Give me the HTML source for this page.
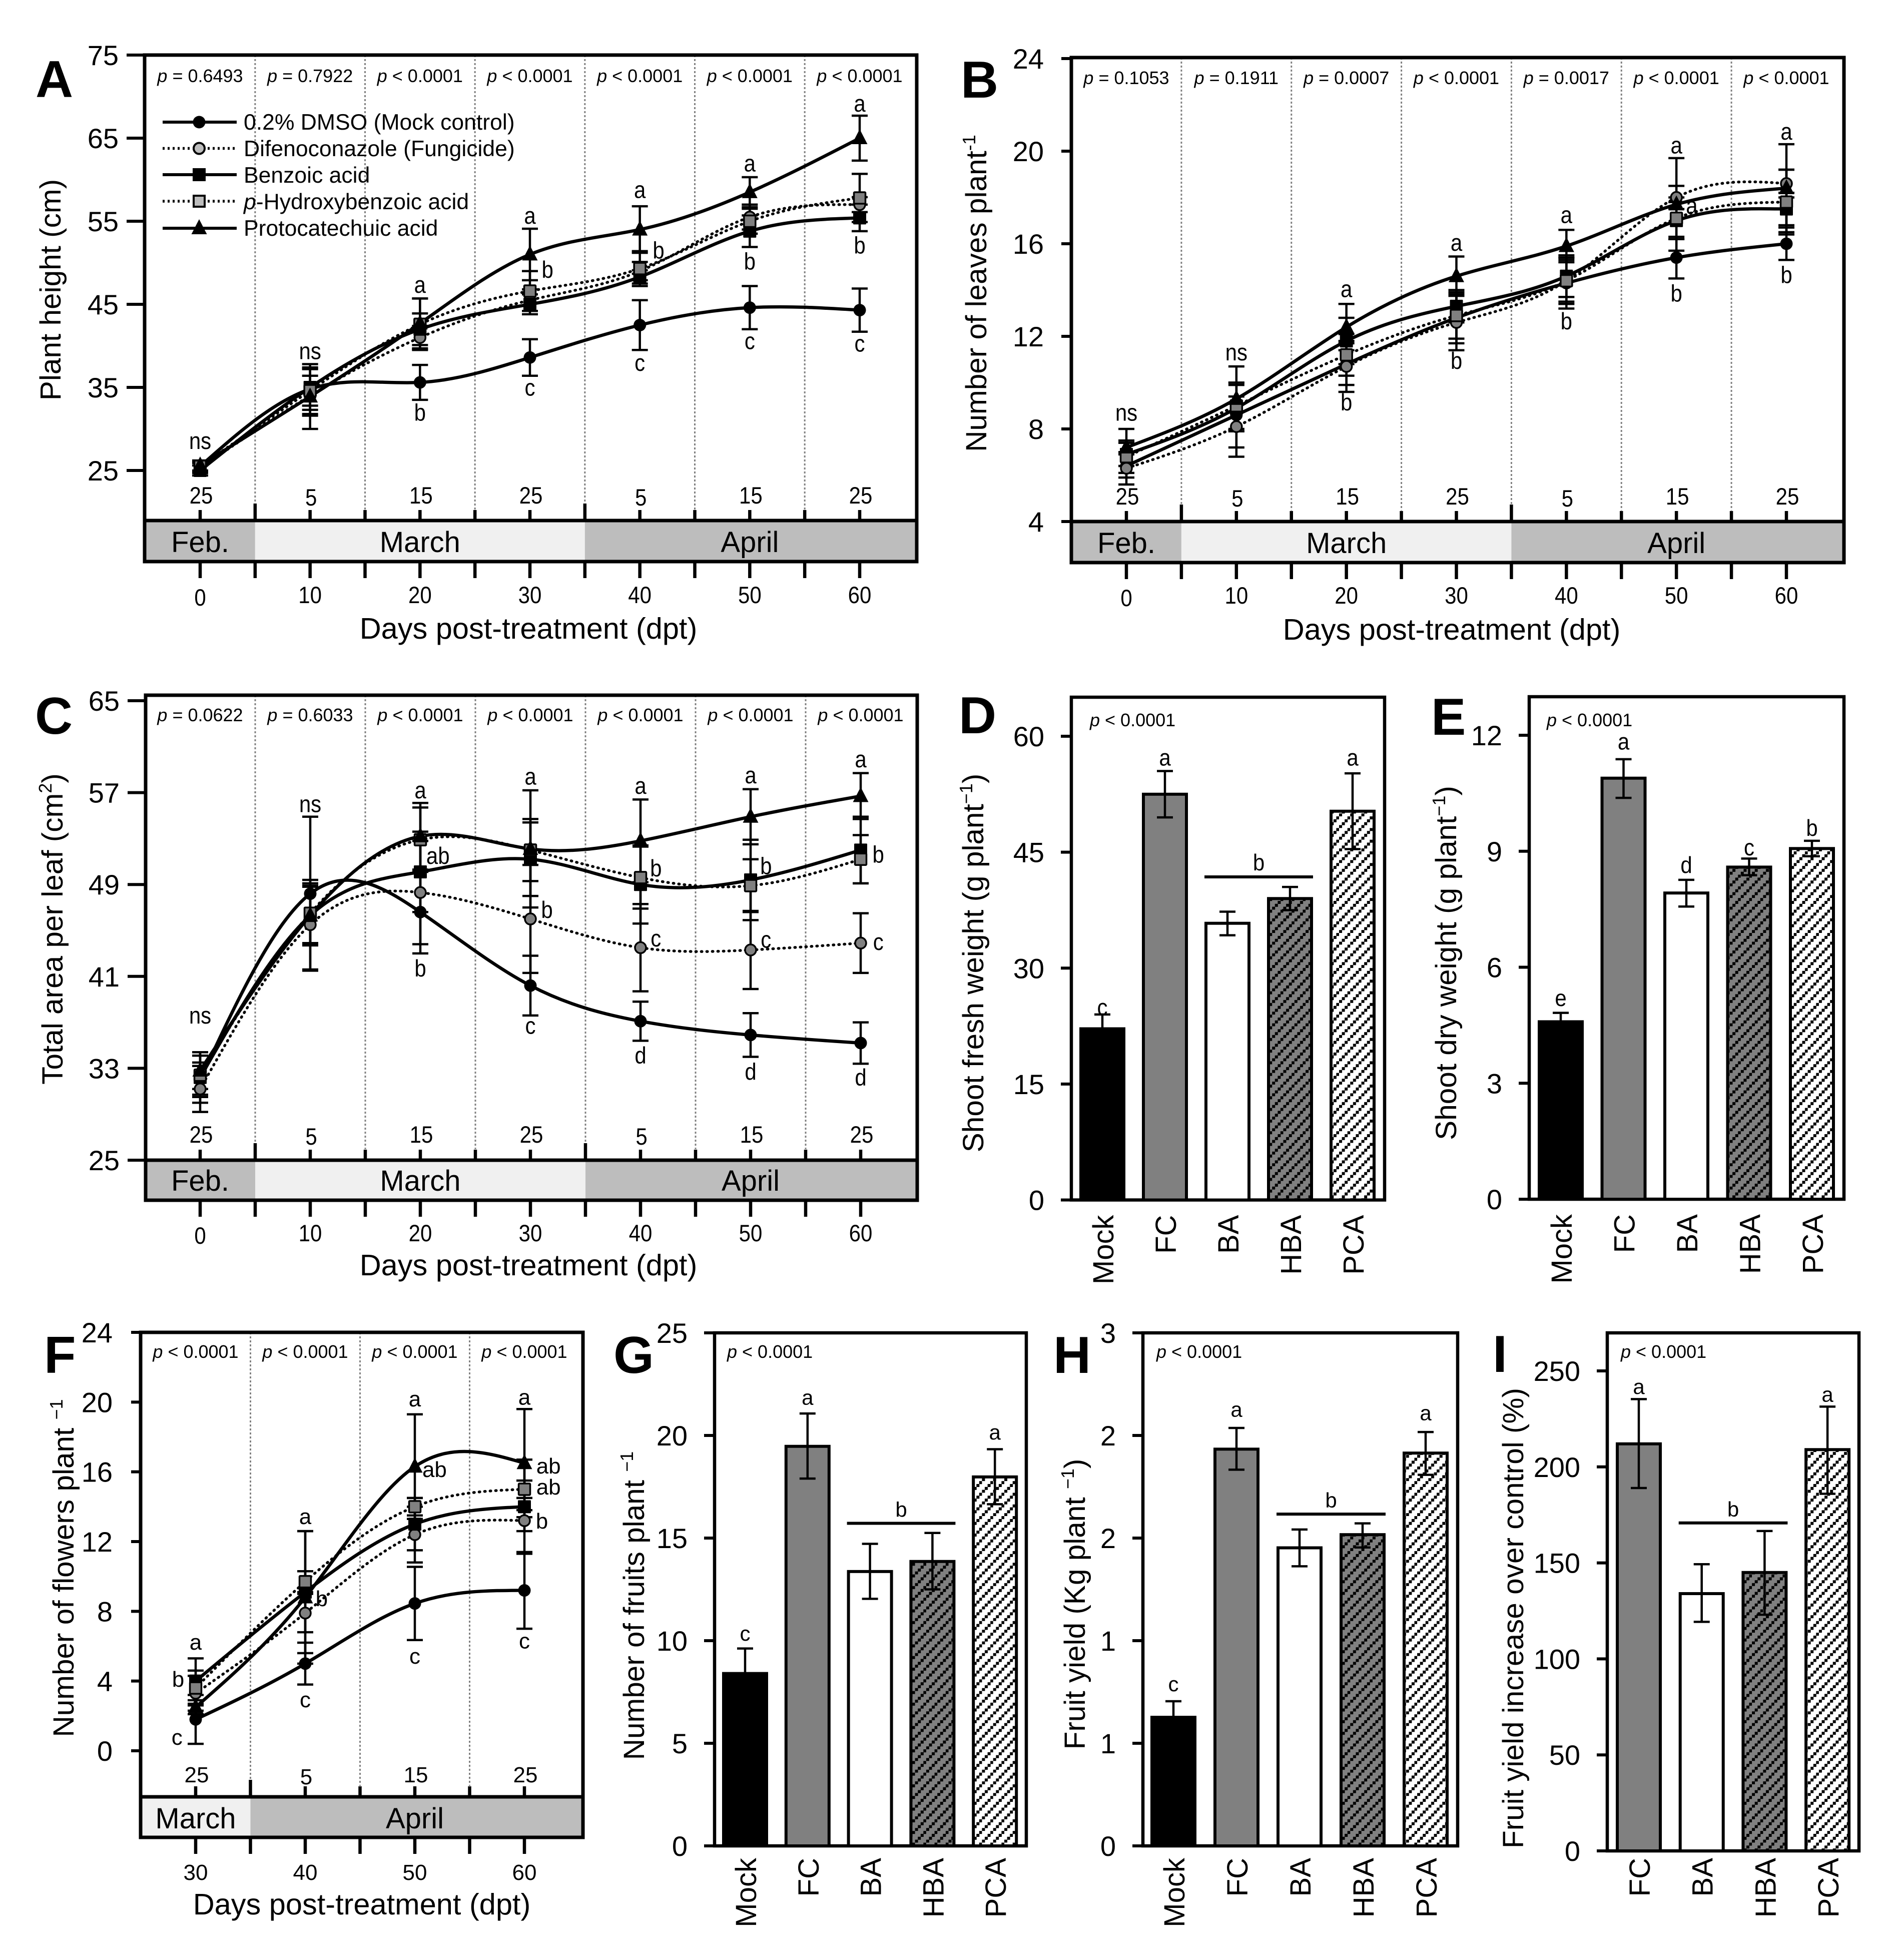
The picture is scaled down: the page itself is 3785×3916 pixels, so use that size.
<!DOCTYPE html>
<html lang="en">
<head>
<meta charset="utf-8">
<title>Plant growth and yield responses to phenolic acid treatments</title>
<style>
html,body{margin:0;padding:0;background:#fff;}
svg{display:block;font-family:"Liberation Sans",Arial,sans-serif;fill:#000;}
</style>
</head>
<body>
<svg id="figure" xmlns="http://www.w3.org/2000/svg" width="3785" height="3916" viewBox="0 0 3785 3916">
  <defs>
    <pattern id="hatch-dark" patternUnits="userSpaceOnUse" width="22.3" height="23.3">
      <rect width="22.3" height="23.3" fill="#808080"/>
      <rect x="0" y="17.5" width="6" height="6" fill="#000"/>
      <rect x="5.6" y="11.7" width="6" height="6" fill="#000"/>
      <rect x="11.2" y="5.9" width="6" height="6" fill="#000"/>
      <rect x="16.7" y="0.1" width="6" height="6" fill="#000"/>
    </pattern>
    <pattern id="hatch-light" patternUnits="userSpaceOnUse" width="22.3" height="23.3">
      <rect width="22.3" height="23.3" fill="#fff"/>
      <rect x="0" y="17.5" width="6" height="6" fill="#000"/>
      <rect x="5.6" y="11.7" width="6" height="6" fill="#000"/>
      <rect x="11.2" y="5.9" width="6" height="6" fill="#000"/>
      <rect x="16.7" y="0.1" width="6" height="6" fill="#000"/>
    </pattern>
  </defs>

  <g id="panel-a"></g>
  <g id="panel-b"></g>
  <g id="panel-c"></g>
  <g id="panel-d"></g>
  <g id="panel-e"></g>
  <g id="panel-f"></g>
  <g id="panel-g"></g>
  <g id="panel-h"></g>
  <g id="panel-i"></g>

  <g id="panel-letters" font-weight="bold" font-size="104">
    <text x="71" y="194">A</text>
    <text x="1920" y="195">B</text>
    <text x="70" y="1466">C</text>
    <text x="1916" y="1465">D</text>
    <text x="2860" y="1468">E</text>
    <text x="88" y="2743">F</text>
    <text x="1226" y="2743">G</text>
    <text x="2105" y="2743">H</text>
    <text x="2983" y="2741">I</text>
  </g>

  <g id="axis-titles" font-size="58.5" text-anchor="middle">
    <text transform="translate(121 579) rotate(-90)">Plant height (cm)</text>
    <text transform="translate(1971 586) rotate(-90)">Number of leaves plant<tspan font-size="36" dy="-22">-1</tspan></text>
    <text transform="translate(125 1856) rotate(-90)">Total area per leaf (cm<tspan font-size="36" dy="-22">2</tspan><tspan dy="22">)</tspan></text>
    <text transform="translate(1965 1924) rotate(-90)">Shoot fresh weight (g plant<tspan font-size="36" dy="-22">−1</tspan><tspan dy="22">)</tspan></text>
    <text transform="translate(2910 1924) rotate(-90)">Shoot dry weight (g plant<tspan font-size="36" dy="-22">−1</tspan><tspan dy="22">)</tspan></text>
    <text transform="translate(147 3133) rotate(-90)">Number of flowers plant <tspan font-size="36" dy="-22">−1</tspan></text>
    <text transform="translate(1287 3208) rotate(-90)">Number of fruits plant <tspan font-size="36" dy="-22">−1</tspan></text>
    <text transform="translate(2168 3205) rotate(-90)">Fruit yield (Kg plant <tspan font-size="36" dy="-22">−1</tspan><tspan dy="22">)</tspan></text>
    <text transform="translate(3044 3233) rotate(-90)">Fruit yield increase over control (%)</text>
    <text x="1056" y="1276" font-size="59.5">Days post-treatment (dpt)</text>
    <text x="2901" y="1278" font-size="59.5">Days post-treatment (dpt)</text>
    <text x="1056" y="2548" font-size="59.5">Days post-treatment (dpt)</text>
    <text x="723" y="3825" font-size="59.5">Days post-treatment (dpt)</text>
  </g>

  <g id="legend" font-size="44.5">
    <g>
      <line x1="325" y1="244" x2="473" y2="244" stroke="#000" stroke-width="6"/>
      <circle cx="398" cy="244" r="12.5" fill="#000"/>
      <text x="487" y="259">0.2% DMSO (Mock control)</text>
    </g>
    <g>
      <line x1="325" y1="296.5" x2="473" y2="296.5" stroke="#000" stroke-width="5.5" stroke-dasharray="4 6"/>
      <circle cx="398" cy="296.5" r="11" fill="#bdbdbd" stroke="#000" stroke-width="4"/>
      <text x="487" y="312">Difenoconazole (Fungicide)</text>
    </g>
    <g>
      <line x1="325" y1="349" x2="473" y2="349" stroke="#000" stroke-width="6"/>
      <rect x="385" y="336" width="26" height="26" fill="#000"/>
      <text x="487" y="365">Benzoic acid</text>
    </g>
    <g>
      <line x1="325" y1="402" x2="473" y2="402" stroke="#000" stroke-width="5.5" stroke-dasharray="4 6"/>
      <rect x="387" y="391" width="22" height="22" fill="#bdbdbd" stroke="#000" stroke-width="4"/>
      <text x="487" y="418"><tspan font-style="italic">p</tspan>-Hydroxybenzoic acid</text>
    </g>
    <g>
      <line x1="325" y1="456" x2="473" y2="456" stroke="#000" stroke-width="6"/>
      <polygon points="382.5,468 398,438 413.5,468" fill="#000"/>
      <text x="487" y="471">Protocatechuic acid</text>
    </g>
  </g>
</svg>

<script>
/* ---------- shared categories ---------- */
const daysFull = [0, 10, 20, 30, 40, 50, 60];
const daysFlower = [30, 40, 50, 60];
const dayOfMonthFull = ['25', '5', '15', '25', '5', '15', '25'];
const dayOfMonthFlower = ['25', '5', '15', '25'];
const barCategories = ['Mock', 'FC', 'BA', 'HBA', 'PCA'];
const barCategoriesNoMock = ['FC', 'BA', 'HBA', 'PCA'];

/* ---------- panel A: plant height ---------- */
const aTicks = [25, 35, 45, 55, 65, 75];
const aPValues = ['= 0.6493', '= 0.7922', '< 0.0001', '< 0.0001', '< 0.0001', '< 0.0001', '< 0.0001'];
const aMock = [25.5, 34.8, 35.6, 38.6, 42.5, 44.6, 44.3];
const aMockErr = [0.7, 2.5, 2.1, 2.2, 3.0, 2.6, 2.6];
const aFC = [25.3, 34.0, 41.0, 45.5, 49.0, 55.5, 57.0];
const aFCErr = [0.6, 2.4, 1.4, 1.3, 1.1, 1.5, 0.9];
const aBA = [25.0, 35.0, 42.0, 45.0, 48.3, 53.8, 55.4];
const aBAErr = [0.6, 2.2, 1.9, 1.2, 0.8, 1.9, 1.6];
const aHBA = [25.5, 34.6, 42.6, 46.6, 49.3, 55.0, 57.8];
const aHBAErr = [0.6, 2.8, 3.1, 2.4, 2.1, 1.5, 2.9];
const aPCA = [25.6, 33.9, 42.7, 51.0, 54.0, 58.5, 65.0];
const aPCAErr = [0.6, 3.9, 3.0, 3.1, 2.8, 1.8, 2.7];
const aNotes = [[0,27.6,'ns'],[10,38.4,'ns'],[20,46.4,'a'],[20,31,'b'],[30,54.7,'a'],[31.6,48.2,'b'],[30,34,'c'],[40,57.8,'a'],[41.7,50.5,'b'],[40,37,'c'],[50,61,'a'],[50,49.2,'b'],[50,39.6,'c'],[60,68.2,'a'],[60,51.1,'b'],[60,39.3,'c']];

/* ---------- panel B: number of leaves ---------- */
const bTicks = [4, 8, 12, 16, 20, 24];
const bPValues = ['= 0.1053', '= 0.1911', '= 0.0007', '< 0.0001', '= 0.0017', '< 0.0001', '< 0.0001'];
const bMock = [6.4, 8.6, 10.8, 12.8, 14.3, 15.4, 16.0];
const bMockErr = [0.5, 1.4, 0.9, 1.1, 1.1, 0.9, 0.7];
const bFC = [6.3, 8.1, 10.7, 12.6, 14.4, 18.0, 18.6];
const bFCErr = [0.7, 1.3, 1.1, 1.2, 0.9, 0.5, 0.6];
const bBA = [6.9, 8.9, 11.8, 13.3, 14.6, 17.0, 17.5];
const bBAErr = [0.5, 1.0, 1.0, 0.7, 0.9, 0.8, 0.7];
const bHBA = [6.8, 9.0, 11.2, 12.9, 14.4, 17.1, 17.8];
const bHBAErr = [0.7, 1.0, 0.9, 1.0, 1.0, 0.9, 1.4];
const bPCA = [7.2, 9.3, 12.4, 14.6, 15.9, 17.7, 18.4];
const bPCAErr = [0.8, 1.4, 1.0, 0.85, 0.7, 2.0, 1.9];
const bNotes = [[0,8.36,'ns'],[10,10.96,'ns'],[20,13.7,'a'],[20,8.8,'b'],[30,15.7,'a'],[30,10.6,'b'],[40,16.9,'a'],[40,12.3,'b'],[50,19.9,'a'],[51.4,17.3,'a'],[50,13.5,'b'],[60,20.5,'a'],[60,14.3,'b']];

/* ---------- panel C: leaf area ---------- */
const cTicks = [25, 33, 41, 49, 57, 65];
const cPValues = ['= 0.0622', '= 0.6033', '< 0.0001', '< 0.0001', '< 0.0001', '< 0.0001', '< 0.0001'];
const cMock = [32.0, 48.2, 46.6, 40.2, 37.1, 35.9, 35.2];
const cMockErr = [1.5, 6.7, 3.6, 2.6, 1.7, 1.9, 1.8];
const cFC = [31.2, 45.5, 48.3, 46.0, 43.5, 43.3, 43.9];
const cFCErr = [2.0, 3.9, 4.5, 4.7, 3.8, 3.4, 2.6];
const cBA = [32.2, 46.3, 50.1, 51.2, 49.0, 49.4, 52.0];
const cBAErr = [2.2, 2.5, 3.5, 3.2, 3.4, 3.5, 2.9];
const cHBA = [32.4, 46.5, 52.9, 52.0, 49.6, 48.9, 51.2];
const cHBAErr = [1.7, 2.6, 2.8, 2.7, 2.7, 2.3, 2.1];
const cPCA = [32.8, 46.3, 53.2, 52.1, 52.8, 54.9, 56.7];
const cPCAErr = [1.6, 2.6, 2.9, 5.1, 3.6, 2.4, 2.0];
const cNotes = [[0,36.9,'ns'],[10,55.3,'ns'],[20,56.5,'a'],[21.6,50.8,'ab'],[20,41,'b'],[30,57.7,'a'],[31.5,46.1,'b'],[30,36,'c'],[40,56.9,'a'],[41.4,49.7,'b'],[41.4,43.6,'c'],[40,33.4,'d'],[50,57.8,'a'],[51.4,49.9,'b'],[51.4,43.5,'c'],[50,32,'d'],[60,59.2,'a'],[61.6,50.9,'b'],[61.6,43.3,'c'],[60,31.5,'d']];

/* ---------- panel F: flowers ---------- */
const fTicks = [0, 4, 8, 12, 16, 20, 24];
const fPValues = ['< 0.0001', '< 0.0001', '< 0.0001', '< 0.0001'];
const fMock = [1.8, 5.0, 8.45, 9.2];
const fMockErr = [1.4, 1.2, 2.1, 2.2];
const fFC = [3.3, 7.9, 12.4, 13.2];
const fFCErr = [1.0, 1.1, 1.6, 0.6];
const fBA = [4.0, 9.1, 13.0, 14.0];
const fBAErr = [1.3, 3.5, 1.5, 2.7];
const fHBA = [3.6, 9.7, 14.0, 15.0];
const fHBAErr = [1.0, 0.6, 0.5, 0.5];
const fPCA = [2.5, 8.8, 16.3, 16.5];
const fPCAErr = [0.4, 3.8, 3.0, 3.1];
const fNotes = [[30,5.8,'a'],[28.4,3.67,'b'],[28.3,0.34,'c'],[40,13,'a'],[41.5,8.3,'b'],[40,2.5,'c'],[50,19.75,'a'],[51.8,15.7,'ab'],[50,5,'c'],[60,19.85,'a'],[62.2,15.9,'ab'],[62.2,14.7,'ab'],[61.6,12.75,'b'],[60,5.87,'c']];

/* ---------- bar panels ---------- */
const dTicks = [0, 15, 30, 45, 60];
const dValues = [22.15, 52.5, 35.8, 39.0, 50.3];
const dErrTop = [24.0, 55.5, 37.3, 40.5, 55.2];
const dErrBottom = [20.3, 49.5, 34.25, 37.5, 45.4];
const dLetters = ['c', 'a', '', '', 'a'];
const dLetterAt = [23.9, 56.2, 0, 0, 56.2];

const eTicks = [0, 3, 6, 9, 12];
const eValues = [4.59, 10.89, 7.92, 8.59, 9.07];
const eErrTop = [4.82, 11.38, 8.26, 8.81, 9.27];
const eErrBottom = [4.36, 10.38, 7.57, 8.38, 8.87];
const eLetters = ['e', 'a', 'd', 'c', 'b'];
const eLetterAt = [5.0, 11.63, 8.44, 8.89, 9.4];

const gTicks = [0, 5, 10, 15, 20, 25];
const gValues = [8.4, 19.47, 13.37, 13.86, 17.98];
const gErrTop = [9.62, 21.07, 14.72, 15.25, 19.33];
const gErrBottom = [7.18, 17.9, 12.04, 12.5, 16.65];
const gLetters = ['c', 'a', '', '', 'a'];
const gLetterAt = [10.0, 21.5, 0, 0, 19.8];

const hTicks = [0, 0.6, 1.2, 1.8, 2.4, 3.0];
const hTickLabels = ['0', '1', '1', '2', '2', '3'];
const hValues = [0.752, 2.32, 1.743, 1.82, 2.297];
const hErrTop = [0.846, 2.444, 1.85, 1.886, 2.42];
const hErrBottom = [0.66, 2.2, 1.635, 1.745, 2.17];
const hLetters = ['c', 'a', '', '', 'a'];
const hLetterAt = [0.905, 2.51, 0, 0, 2.49];

const iTicks = [0, 50, 100, 150, 200, 250];
const iValues = [212, 134, 145, 209];
const iErrTop = [235.3, 149.3, 166.6, 231.4];
const iErrBottom = [189, 119.3, 123, 186];
const iLetters = ['a', '', '', 'a'];
const iLetterAt = [238, 0, 0, 234];

/* ---------- drawing helpers ---------- */
const NS = 'http://www.w3.org/2000/svg';
function make(tag, parent, attrs) {
  const el = document.createElementNS(NS, tag);
  for (const k in attrs) el.setAttribute(k, attrs[k]);
  parent.appendChild(el);
  return el;
}
function ln(p, x1, y1, x2, y2, w, c) {
  return make('line', p, { x1: x1, y1: y1, x2: x2, y2: y2, 'stroke-width': w, stroke: c || '#000' });
}
function tx(p, x, y, s, size, anchor) {
  const el = make('text', p, { x: x, y: y, 'font-size': size, 'text-anchor': anchor || 'middle' });
  el.textContent = s;
  return el;
}
/* small labels in the upper panels are drawn slightly taller than wide */
function tallText(p, x, y, s, size, stretch) {
  const el = make('text', p, { 'font-size': size, 'text-anchor': 'middle', transform: 'translate(' + x + ' ' + y + ') scale(1 ' + stretch + ')' });
  el.textContent = s;
  return el;
}
function linearScale(d0, d1, r0, r1) {
  return function (v) { return r0 + (v - d0) * (r1 - r0) / (d1 - d0); };
}
/* natural cubic spline through the plotted points, emitted as beziers */
function splinePath(pts) {
  const n = pts.length;
  const h = [], a = new Array(n).fill(0), b = new Array(n).fill(1), c = new Array(n).fill(0), r = new Array(n).fill(0);
  for (let i = 0; i < n - 1; i++) h.push(pts[i + 1][0] - pts[i][0]);
  for (let i = 1; i < n - 1; i++) {
    a[i] = h[i - 1];
    b[i] = 2 * (h[i - 1] + h[i]);
    c[i] = h[i];
    r[i] = 6 * ((pts[i + 1][1] - pts[i][1]) / h[i] - (pts[i][1] - pts[i - 1][1]) / h[i - 1]);
  }
  for (let i = 1; i < n; i++) {
    const m = a[i] / b[i - 1];
    b[i] -= m * c[i - 1];
    r[i] -= m * r[i - 1];
  }
  const M = new Array(n).fill(0);
  M[n - 1] = r[n - 1] / b[n - 1];
  for (let i = n - 2; i >= 0; i--) M[i] = (r[i] - c[i] * M[i + 1]) / b[i];
  let d = 'M' + pts[0][0].toFixed(2) + ' ' + pts[0][1].toFixed(2);
  for (let i = 0; i < n - 1; i++) {
    const s = (pts[i + 1][1] - pts[i][1]) / h[i];
    const d0 = s - h[i] * (2 * M[i] + M[i + 1]) / 6;
    const d1 = s + h[i] * (M[i] + 2 * M[i + 1]) / 6;
    d += 'C' + (pts[i][0] + h[i] / 3).toFixed(2) + ' ' + (pts[i][1] + d0 * h[i] / 3).toFixed(2) + ' ' +
      (pts[i + 1][0] - h[i] / 3).toFixed(2) + ' ' + (pts[i + 1][1] - d1 * h[i] / 3).toFixed(2) + ' ' +
      pts[i + 1][0].toFixed(2) + ' ' + pts[i + 1][1].toFixed(2);
  }
  return d;
}
function drawMarker(g, shape, cx, cy, fill) {
  let el;
  if (shape === 'circle') {
    el = make('circle', g, { cx: cx, cy: cy, r: fill === '#000' ? 12.5 : 11, fill: fill, stroke: '#000', 'stroke-width': fill === '#000' ? 0 : 3.5 });
  } else if (shape === 'square') {
    const s = fill === '#000' ? 26 : 23;
    el = make('rect', g, { x: cx - s / 2, y: cy - s / 2, width: s, height: s, rx: 1.5, fill: fill, stroke: '#000', 'stroke-width': fill === '#000' ? 0 : 3.5 });
  } else {
    el = make('polygon', g, { points: (cx - 15.5) + ',' + (cy + 12) + ' ' + cx + ',' + (cy - 18) + ' ' + (cx + 15.5) + ',' + (cy + 12), fill: fill });
  }
  return el;
}
function drawPText(g, x, y, s, size, anchor) {
  const el = tx(g, x, y, '', size, anchor);
  const it = make('tspan', el, { 'font-style': 'italic' });
  it.textContent = 'p';
  el.appendChild(document.createTextNode(' ' + s));
  return el;
}

/* ---------- time-course panel ---------- */
function lineChart(cfg) {
  const g = document.getElementById(cfg.id);
  const x = linearScale(cfg.dayA, cfg.dayB, cfg.pxA, cfg.pxB);
  const y = linearScale(cfg.yMin, cfg.yMax, cfg.yMinPx, cfg.yMaxPx);

  const bands = make('g', g, {});
  
  
  cfg.months.forEach(function (m) {
    const left = m.from === null ? cfg.left : x(m.from);
    const right = m.to === null ? cfg.right : x(m.to);
    const r = make('rect', bands, { x: left, y: cfg.bandTop, width: right - left, height: cfg.bottom - cfg.bandTop, fill: m.fill });
    
    
    const t = tx(bands, x(m.labelDay), cfg.monthBase, m.label, 58);
    
    
  });

  cfg.dividers.forEach(function (d) {
    const el = ln(g, x(d), cfg.top, x(d), cfg.bandTop - 22, 3, '#808080');
    el.setAttribute('stroke-dasharray', '4 4');
    
    
  });

  const box = make('rect', g, { x: cfg.left, y: cfg.top, width: cfg.right - cfg.left, height: cfg.bottom - cfg.top, fill: 'none', stroke: '#000', 'stroke-width': 7 });
  
  
  const bandLine = ln(g, cfg.left, cfg.bandTop, cfg.right, cfg.bandTop, 7);
  
  

  cfg.ticks.forEach(function (v) {
    const t = ln(g, cfg.left - cfg.tickLen, y(v), cfg.left, y(v), 6);
    
    
    const l = tx(g, cfg.left - cfg.labelGap, y(v) + 20, String(v), 56, 'end');
    
    
  });

  cfg.days.forEach(function (d, i) {
    const up = ln(g, x(d), cfg.bandTop - 21, x(d), cfg.bandTop, 6.5);
    
    
    const down = ln(g, x(d), cfg.bottom, x(d), cfg.bottom + 33, 6.5);
    
    
    const lab = tallText(g, x(d), cfg.xLabelBase + (d === 0 ? 5 : 0), String(d), cfg.smallFont, cfg.stretch);
    
    
    const dom = tallText(g, x(d) + 2, cfg.domBase + (cfg.dom[i].length === 1 ? 4 : 0), cfg.dom[i], cfg.smallFont, cfg.stretch);
    
    
    const pt = drawPText(g, x(d), cfg.pBase, cfg.p[i], 36);
    
    
  });
  cfg.dividers.forEach(function (d) {
    const big = cfg.monthEdges.indexOf(d) >= 0;
    const up = ln(g, x(d), cfg.bandTop - (big ? 34 : 21), x(d), cfg.bandTop, 6.5);
    
    
    const down = ln(g, x(d), cfg.bottom, x(d), cfg.bottom + 33, 6.5);
    
    
  });

  cfg.series.forEach(function (s) {
    s.vals.forEach(function (v, i) {
      const eg = make('g', g, {});
      
      
      const cx = x(cfg.days[i]);
      ln(eg, cx, y(v - s.errs[i]), cx, y(v + s.errs[i]), 4.5);
      ln(eg, cx - 16, y(v + s.errs[i]), cx + 16, y(v + s.errs[i]), 4.5);
      ln(eg, cx - 16, y(v - s.errs[i]), cx + 16, y(v - s.errs[i]), 4.5);
    });
  });
  cfg.series.forEach(function (s) {
    const pts = s.vals.map(function (v, i) { return [x(cfg.days[i]), y(v)]; });
    const p = make('path', g, { d: splinePath(pts), fill: 'none', stroke: '#000', 'stroke-width': s.dotted ? 5.5 : 6.5 });
    if (s.dotted) {
      p.setAttribute('stroke-dasharray', '1.5 9.5');
      p.setAttribute('stroke-linecap', 'round');
    }
    
    
  });
  cfg.series.forEach(function (s) {
    s.vals.forEach(function (v, i) {
      const m = drawMarker(g, s.shape, x(cfg.days[i]), y(v), s.fill);
      
      
    });
  });
  cfg.notes.forEach(function (n) {
    const t = tallText(g, x(n[0]), y(n[1]), n[2], cfg.smallFont, cfg.stretch);
    
    
  });
}

/* ---------- bar panel ---------- */
function barChart(cfg) {
  const g = document.getElementById(cfg.id);
  const y = linearScale(cfg.ticks[0], cfg.ticks[cfg.ticks.length - 1], cfg.zeroPx, cfg.maxPx);
  const fills = cfg.fills;
  const barW = 86;

  const box = make('rect', g, { x: cfg.left, y: cfg.top, width: cfg.right - cfg.left, height: cfg.zeroPx - cfg.top, fill: 'none', stroke: '#000', 'stroke-width': 6.5 });
  
  

  cfg.ticks.forEach(function (v, i) {
    const t = ln(g, cfg.left - 21, y(v), cfg.left, y(v), 6);
    
    
    const lab = cfg.tickLabels ? cfg.tickLabels[i] : String(v);
    const l = tx(g, cfg.left - 54, y(v) + 20, lab, 56, 'end');
    
    
  });

  cfg.categories.forEach(function (name, i) {
    const cx = cfg.barX0 + cfg.barStep * i;
    const bar = make('rect', g, { x: cx - barW / 2, y: y(cfg.values[i]), width: barW, height: cfg.zeroPx - y(cfg.values[i]), fill: fills[i], stroke: '#000', 'stroke-width': 6 });
    
    
    const eg = make('g', g, {});
    
    
    ln(eg, cx, y(cfg.errTop[i]), cx, y(cfg.errBottom[i]), 4.5);
    ln(eg, cx - 16, y(cfg.errTop[i]), cx + 16, y(cfg.errTop[i]), 4.5);
    ln(eg, cx - 16, y(cfg.errBottom[i]), cx + 16, y(cfg.errBottom[i]), 4.5);
    const lab = tx(g, 0, 0, name, 58, 'end');
    lab.setAttribute('transform', 'translate(' + (cx + 22) + ' ' + (cfg.zeroPx + cfg.catGap) + ') rotate(-90)');
    
    
    if (cfg.letters[i]) {
      const t = tallText(g, cx, y(cfg.letterAt[i]), cfg.letters[i], 42, cfg.stretch);
      
      
    }
  });

  if (cfg.bracket) {
    const bx0 = cfg.barX0 + cfg.barStep * cfg.bracket.from - barW / 2 - 3;
    const bx1 = cfg.barX0 + cfg.barStep * cfg.bracket.to + barW / 2 + 3;
    const line = ln(g, bx0, y(cfg.bracket.at), bx1, y(cfg.bracket.at), 6);
    
    
    const t = tallText(g, (bx0 + bx1) / 2, y(cfg.bracket.at) - 13, 'b', 42, cfg.stretch);
    
    
  }

  const pt = drawPText(g, cfg.pX, cfg.pBase, '< 0.0001', 36, 'start');
  
  
}

function seriesOf(m, me, f, fe, b, be, h, he, p, pe) {
  return [
    { vals: m, errs: me, dotted: false, shape: 'circle', fill: '#000' },
    { vals: f, errs: fe, dotted: true, shape: 'circle', fill: '#808080' },
    { vals: b, errs: be, dotted: false, shape: 'square', fill: '#000' },
    { vals: h, errs: he, dotted: true, shape: 'square', fill: '#808080' },
    { vals: p, errs: pe, dotted: false, shape: 'triangle', fill: '#000' }
  ];
}
const monthsFull = [
  { label: 'Feb.', from: null, to: 5, labelDay: 0, fill: '#bdbdbd' },
  { label: 'March', from: 5, to: 35, labelDay: 20, fill: '#f0f0f0' },
  { label: 'April', from: 35, to: null, labelDay: 50, fill: '#bdbdbd' }
];
const monthsFlower = [
  { label: 'March', from: null, to: 35, labelDay: 30, fill: '#f0f0f0' },
  { label: 'April', from: 35, to: null, labelDay: 50, fill: '#bdbdbd' }
];
const dividersFull = [5, 15, 25, 35, 45, 55];
const dividersFlower = [35, 45, 55];

lineChart({
  id: 'panel-a', dayA: 0, dayB: 60, pxA: 400, pxB: 1718, yMin: 25, yMax: 75, yMinPx: 940, yMaxPx: 110,
  left: 289, right: 1832, top: 110, bottom: 1122, bandTop: 1040, tickLen: 36, labelGap: 52,
  monthBase: 1103, xLabelBase: 1205, domBase: 1006, pBase: 164, smallFont: 42, stretch: 1.12,
  months: monthsFull, dividers: dividersFull, monthEdges: [5, 35], days: daysFull, dom: dayOfMonthFull,
  ticks: aTicks, p: aPValues, notes: aNotes,
  series: seriesOf(aMock, aMockErr, aFC, aFCErr, aBA, aBAErr, aHBA, aHBAErr, aPCA, aPCAErr)
});
lineChart({
  id: 'panel-b', dayA: 0, dayB: 60, pxA: 2251, pxB: 3570, yMin: 4, yMax: 24, yMinPx: 1042, yMaxPx: 117,
  left: 2141, right: 3685, top: 115, bottom: 1124, bandTop: 1042, tickLen: 20, labelGap: 55,
  monthBase: 1105, xLabelBase: 1206, domBase: 1008, pBase: 168, smallFont: 42, stretch: 1.12,
  months: monthsFull, dividers: dividersFull, monthEdges: [5, 35], days: daysFull, dom: dayOfMonthFull,
  ticks: bTicks, p: bPValues, notes: bNotes,
  series: seriesOf(bMock, bMockErr, bFC, bFCErr, bBA, bBAErr, bHBA, bHBAErr, bPCA, bPCAErr)
});
lineChart({
  id: 'panel-c', dayA: 0, dayB: 60, pxA: 400, pxB: 1720, yMin: 25, yMax: 65, yMinPx: 2318, yMaxPx: 1400,
  left: 291, right: 1833, top: 1389, bottom: 2398, bandTop: 2318, tickLen: 36, labelGap: 52,
  monthBase: 2379, xLabelBase: 2480, domBase: 2283, pBase: 1441, smallFont: 42, stretch: 1.12,
  months: monthsFull, dividers: dividersFull, monthEdges: [5, 35], days: daysFull, dom: dayOfMonthFull,
  ticks: cTicks, p: cPValues, notes: cNotes,
  series: seriesOf(cMock, cMockErr, cFC, cFCErr, cBA, cBAErr, cHBA, cHBAErr, cPCA, cPCAErr)
});
lineChart({
  id: 'panel-f', dayA: 30, dayB: 60, pxA: 391, pxB: 1048, yMin: 0, yMax: 24, yMinPx: 3498, yMaxPx: 2662,
  left: 281, right: 1165, top: 2662, bottom: 3671, bandTop: 3590, tickLen: 19, labelGap: 56,
  monthBase: 3653, xLabelBase: 3756, domBase: 3561, pBase: 2713, smallFont: 44, stretch: 1,
  months: monthsFlower, dividers: dividersFlower, monthEdges: [35], days: daysFlower, dom: dayOfMonthFlower,
  ticks: fTicks, p: fPValues, notes: fNotes,
  series: seriesOf(fMock, fMockErr, fFC, fFCErr, fBA, fBAErr, fHBA, fHBAErr, fPCA, fPCAErr)
});

const fillsFive = ['#000', '#808080', '#fff', 'url(#hatch-dark)', 'url(#hatch-light)'];
const fillsFour = ['#808080', '#fff', 'url(#hatch-dark)', 'url(#hatch-light)'];

barChart({
  id: 'panel-d', left: 2141, right: 2767, top: 1393, zeroPx: 2397.5, maxPx: 1471, ticks: dTicks,
  barX0: 2203, barStep: 125, categories: barCategories, catGap: 30, fills: fillsFive, stretch: 1.1,
  values: dValues, errTop: dErrTop, errBottom: dErrBottom, letters: dLetters, letterAt: dLetterAt,
  bracket: { from: 2, to: 3, at: 41.8 }, pX: 2178, pBase: 1451
});
barChart({
  id: 'panel-e', left: 3056, right: 3685, top: 1392, zeroPx: 2396, maxPx: 1469, ticks: eTicks,
  barX0: 3119, barStep: 125.5, categories: barCategories, catGap: 30, fills: fillsFive, stretch: 1.1,
  values: eValues, errTop: eErrTop, errBottom: eErrBottom, letters: eLetters, letterAt: eLetterAt,
  pX: 3091, pBase: 1451
});
barChart({
  id: 'panel-g', left: 1428, right: 2051, top: 2663, zeroPx: 3688, maxPx: 2663, ticks: gTicks,
  barX0: 1489, barStep: 124.8, categories: barCategories, catGap: 24, fills: fillsFive, stretch: 1,
  values: gValues, errTop: gErrTop, errBottom: gErrBottom, letters: gLetters, letterAt: gLetterAt,
  bracket: { from: 2, to: 3, at: 15.72 }, pX: 1453, pBase: 2713
});
barChart({
  id: 'panel-h', left: 2284, right: 2913, top: 2663, zeroPx: 3688, maxPx: 2663, ticks: hTicks, tickLabels: hTickLabels,
  barX0: 2345, barStep: 126, categories: barCategories, catGap: 24, fills: fillsFive, stretch: 1,
  values: hValues, errTop: hErrTop, errBottom: hErrBottom, letters: hLetters, letterAt: hLetterAt,
  bracket: { from: 2, to: 3, at: 1.94 }, pX: 2311, pBase: 2713
});
barChart({
  id: 'panel-i', left: 3212, right: 3715, top: 2663, zeroPx: 3698, maxPx: 2739, ticks: iTicks,
  barX0: 3275, barStep: 125.7, categories: barCategoriesNoMock, catGap: 14, fills: fillsFour, stretch: 1,
  values: iValues, errTop: iErrTop, errBottom: iErrBottom, letters: iLetters, letterAt: iLetterAt,
  bracket: { from: 1, to: 2, at: 170.8 }, pX: 3239, pBase: 2713
});
</script>
</body>
</html>
